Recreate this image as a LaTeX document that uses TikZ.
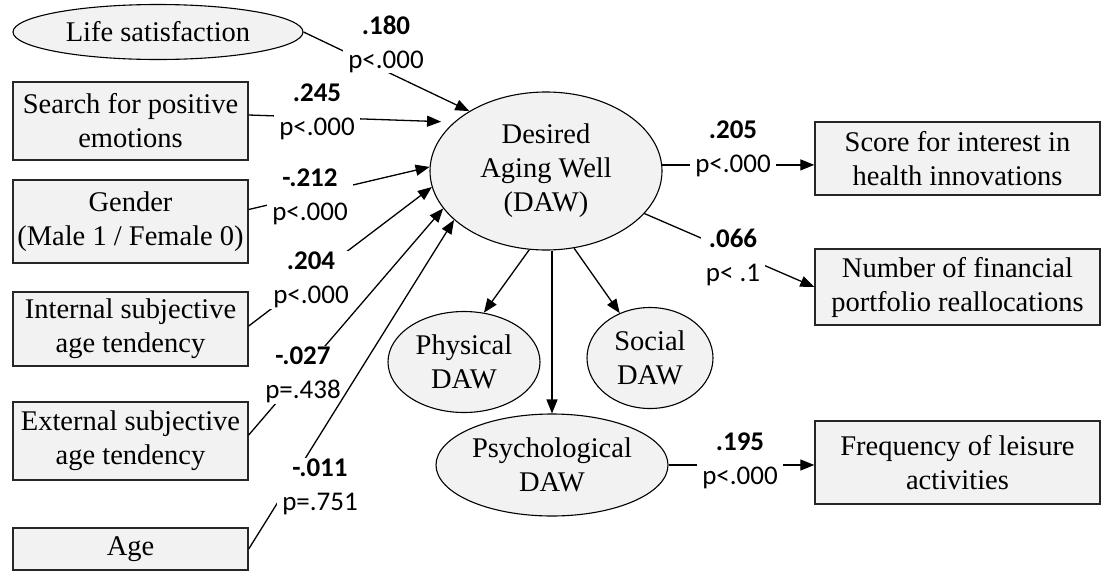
\documentclass[tikz,border=0pt]{standalone}
\usepackage{fontspec}
\setmainfont{Liberation Serif}
\newfontfamily\labfont{Carlito}
\usetikzlibrary{shapes.geometric,arrows.meta}
\definecolor{boxgrey}{RGB}{242,242,242}
\tikzset{
  boxnode/.style={draw=black!85, line width=1.4pt, fill=boxgrey, inner sep=0pt,
    align=center, font=\fontsize{28.5}{34}\selectfont},
  ovalnode/.style={ellipse, draw=black, line width=1.1pt, fill=boxgrey, inner sep=0pt,
    align=center, font=\fontsize{28.5}{34}\selectfont},
  coef/.style={fill=white, inner xsep=5pt, inner ysep=1pt, align=center,
    font=\labfont\fontsize{27}{34}\selectfont},
  conn/.style={line width=1.3pt, -{Triangle[length=14pt,width=11pt]}}
}
\begin{document}
\begin{tikzpicture}[x=1pt,y=-1pt]
\useasboundingbox (0,0) rectangle (1101,571);

% predictors
\node[ovalnode, minimum width=290pt, minimum height=55pt] (life) at (158,32) {Life satisfaction};
\node[boxnode, minimum width=235pt, minimum height=78pt] (search) at (130.5,121) {Search for positive\\emotions};
\node[boxnode, minimum width=235pt, minimum height=83pt] (gender) at (130.5,221.5) {Gender\\(Male 1 / Female 0)};
\node[boxnode, minimum width=235pt, minimum height=74pt] (internal) at (130.5,329) {Internal subjective\\age tendency};
\node[boxnode, minimum width=235pt, minimum height=78pt] (external) at (130.5,441) {External subjective\\age tendency};
\node[boxnode, minimum width=235pt, minimum height=42pt] (age) at (130.5,549) {Age};

% latent construct and its dimensions
\node[ovalnode, minimum width=232pt, minimum height=158pt] (daw) at (546,171) {Desired\\Aging Well\\(DAW)};
\node[ovalnode, minimum width=152pt, minimum height=101pt] (phys) at (464,362) {Physical\\DAW};
\node[ovalnode, minimum width=126pt, minimum height=101pt] (social) at (650,358) {Social\\DAW};
\node[ovalnode, minimum width=232pt, minimum height=102pt] (psych) at (552,465) {Psychological\\DAW};

% outcomes
\node[boxnode, minimum width=285pt, minimum height=73pt] (score) at (957.5,158.5) {Score for interest in\\health innovations};
\node[boxnode, minimum width=285pt, minimum height=76pt] (number) at (957.5,287) {Number of financial\\portfolio reallocations};
\node[boxnode, minimum width=285pt, minimum height=83pt] (freq) at (957.5,462.5) {Frequency of leisure\\activities};

% paths into DAW, each followed by its coefficient
\draw[conn] (life.east) -- (daw.142);
\node[coef] (clife) at (386,44) {\bfseries .180\\p<.000};

\draw[conn, shorten >=13pt] ([yshift=6pt]search.east) -- (daw.152);
\node[coef] (csearch) at (317,112) {\bfseries .245\\p<.000};

\draw[conn] ([yshift=12pt]gender.east) -- (daw.178);
\node[coef] (cgender) at (310,197) {\bfseries -.212\\p<.000};

\draw[conn] ([yshift=3pt]internal.east) -- (daw.188);
\node[coef] (cinternal) at (311,280) {\bfseries .204\\p<.000};

\draw[conn] ([yshift=6pt]external.east) -- (daw.200);
\node[coef] (cexternal) at (303,375) {\bfseries -.027\\p=.438};

\draw[conn] (age.east) -- (daw.208);
\node[coef] (cage) at (320,487) {\bfseries -.011\\p=.751};

% DAW dimensions
\draw[conn] (daw.258) -- (phys.68);
\draw[conn] (daw.290) -- (social.124);
\draw[conn] (daw.south -| psych.north) -- (psych.north);

% paths out of DAW
\draw[conn] (daw.3) -- (daw.3 -| score.west);
\node[coef] (cscore) at (733,149) {\bfseries .205\\p<.000};

\draw[conn] (daw) -- (number.west);
\node[coef] (cnumber) at (733,257) {\bfseries .066\\p< .1};

\draw[conn] (psych.east) -- (psych.east -| freq.west);
\node[coef] (cfreq) at (740,461) {\bfseries .195\\p<.000};
\end{tikzpicture}
\end{document}
